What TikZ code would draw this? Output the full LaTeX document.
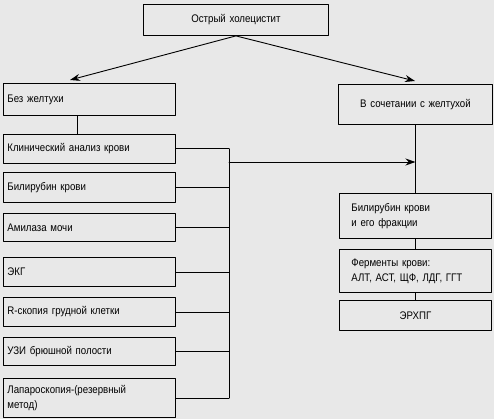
\documentclass[tikz,border=0pt]{standalone}
\usepackage{fontspec}
\setmainfont[FakeStretch=0.88]{Liberation Sans}
\usetikzlibrary{arrows.meta}

\tikzset{
  box/.style={draw, line width=0.9pt, anchor=north west, inner xsep=4pt, inner ysep=0pt, align=left},
  lbox/.style={box, text width=164pt},
  rbox/.style={box, inner xsep=12pt, text width=128pt},
}

\begin{document}
\begin{tikzpicture}[x=1pt, y=-1pt, >={Stealth[length=10pt,width=7pt]}, font=\fontsize{11}{15}\selectfont, line cap=round, line join=round]
  \fill[black!9] (0,0) rectangle (494,419);
  \useasboundingbox (0,0) rectangle (494,419);

  % top
  \node[box, align=center, text width=177pt, minimum height=31pt] (top) at (143,4) {Острый холецистит};

  % two branches
  \node[lbox, minimum height=32pt] (bez) at (3,83) {Без желтухи};
  \node[box, align=center, text width=146pt, minimum height=40pt] (soch) at (338,84) {В сочетании с желтухой};

  % left column
  \node[lbox, minimum height=29pt] (klin) at (3,134) {Клинический анализ крови};
  \node[lbox, minimum height=30pt] (bilk) at (3,172) {Билирубин крови};
  \node[lbox, minimum height=28pt] (amil) at (3,213) {Амилаза мочи};
  \node[lbox, minimum height=29pt] (ekg) at (3,257) {ЭКГ};
  \node[lbox, minimum height=29pt] (rsk) at (3,297) {R-скопия грудной клетки};
  \node[lbox, minimum height=28pt] (uzi) at (3,337) {УЗИ брюшной полости};
  \node[lbox, minimum height=39pt] (lap) at (3,378) {Лапароскопия-(резервный\\метод)};

  % right column
  \node[rbox, minimum height=45pt] (bilf) at (339,193) {Билирубин крови\\и его фракции};
  \node[rbox, minimum height=43pt] (ferm) at (339,249) {Ферменты крови:\\АЛТ, АСТ, ЩФ, ЛДГ, ГГТ};
  \node[rbox, align=center, minimum height=30pt] (erhpg) at (339,300) {ЭРХПГ};

  \coordinate (tipL) at (70,80);
  \coordinate (tipR) at (415,81);
  \coordinate (lv) at (77,0);
  \coordinate (bus) at (229,0);
  \coordinate (junc) at (229,162);

  \begin{scope}[line width=0.9pt]
    \draw[->] (top.south) -- (tipL);
    \draw[->] (top.south) -- (tipR);
    \draw (bez.south -| lv) -- (klin.north -| lv);
    \foreach \n in {klin,bilk,amil,ekg,rsk,uzi,lap} {
      \draw (\n.east) -- (\n.east -| bus);
    }
    \draw (klin.east -| bus) -- (lap.east -| bus);
    \draw[->] (junc) -- (junc -| soch.south);
    \draw (soch.south) -- (bilf.north);
    \draw (bilf.south) -- (ferm.north);
    \draw (ferm.south) -- (erhpg.north);
  \end{scope}
\end{tikzpicture}
\end{document}
